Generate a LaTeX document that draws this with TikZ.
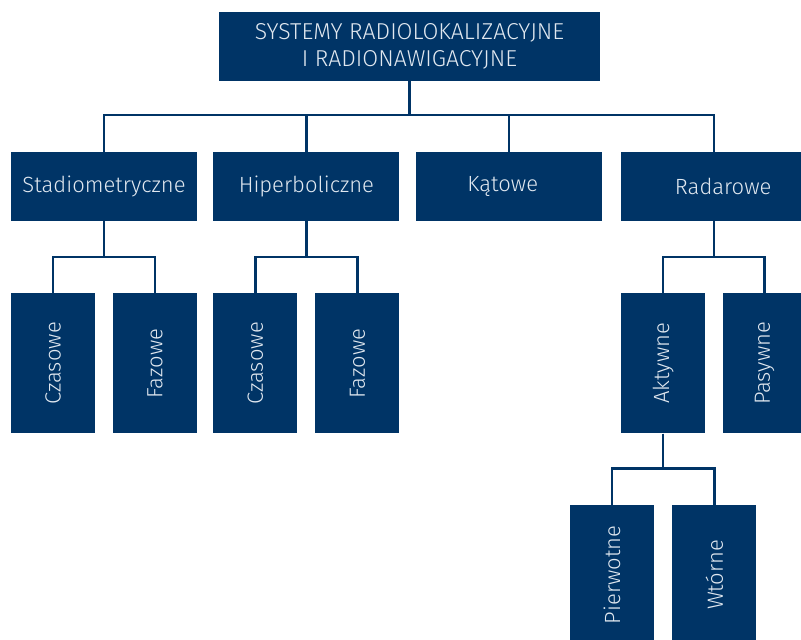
\documentclass[tikz,border=0pt]{standalone}
\usepackage{fontspec}
\setmainfont{Fira Sans Light}
\usetikzlibrary{positioning}
\definecolor{navy}{HTML}{003466}
\definecolor{paleblue}{HTML}{E1E8F0}
\tikzset{
  box/.style    = {rectangle, fill=navy, text=paleblue, inner sep=0pt,
                   align=center, font=\fontsize{22}{26}\selectfont},
  catbox/.style = {box, minimum width=186pt, minimum height=69pt},
  leaf/.style   = {box, minimum width=84pt, minimum height=140pt},
  link/.style   = {draw=navy, line width=2.3pt},
}

\begin{document}
\begin{tikzpicture}[x=1pt, y=1pt]
  \useasboundingbox (0,0) rectangle (801,640);
  \node[box, minimum width=381pt, minimum height=69pt,
        font=\fontsize{23}{26.5}\selectfont] (sys) at (409.5,593.5)
        {SYSTEMY RADIOLOKALIZACYJNE\\I RADIONAWIGACYJNE};
  % second level
  \node[catbox] (stad) at (104,453.5) {Stadiometryczne};
  \node[catbox, right=16pt of stad] (hip) {Hiperboliczne};
  \node[catbox, right=16pt of hip]  (kat) {Kątowe\hspace*{12pt}};
  \node[catbox, right=19pt of kat]  (rad) {\hspace*{18pt}Radarowe};
  % leaves
  \node[leaf, below=72pt of stad.south west, anchor=north west] (stadcz)
        {\rotatebox{90}{Czasowe}};
  \node[leaf, below=72pt of stad.south east, anchor=north east] (stadfaz)
        {\rotatebox{90}{Fazowe}};
  \node[leaf, below=72pt of hip.south west, anchor=north west] (hipcz)
        {\rotatebox{90}{Czasowe}};
  \node[leaf, below=72pt of hip.south east, anchor=north east] (hipfaz)
        {\rotatebox{90}{Fazowe}};
  \node[leaf, below=72pt of rad.south west, anchor=north west] (akt)
        {\rotatebox{90}{Aktywne}};
  \node[leaf, right=17pt of akt] (pas) {\rotatebox{90}{Pasywne}};
  \node[leaf, below=71pt of akt.south, anchor=north east, xshift=-9pt] (pier)
        {\rotatebox{90}{Pierwotne}};
  \node[leaf, right=18pt of pier] (wt) {\rotatebox{90}{Wtórne}};
  % connectors
  \foreach \c in {stad,hip,kat,rad}
    \draw[link] (sys.south) |- ([yshift=37pt]\c.north) -- (\c.north);
  \foreach \p/\c in {stad/stadcz,stad/stadfaz,hip/hipcz,hip/hipfaz,
                     rad/akt,rad/pas,akt/pier,akt/wt}
    \draw[link] (\p.south) |- ([yshift=36pt]\c.north) -- (\c.north);
\end{tikzpicture}
\end{document}
